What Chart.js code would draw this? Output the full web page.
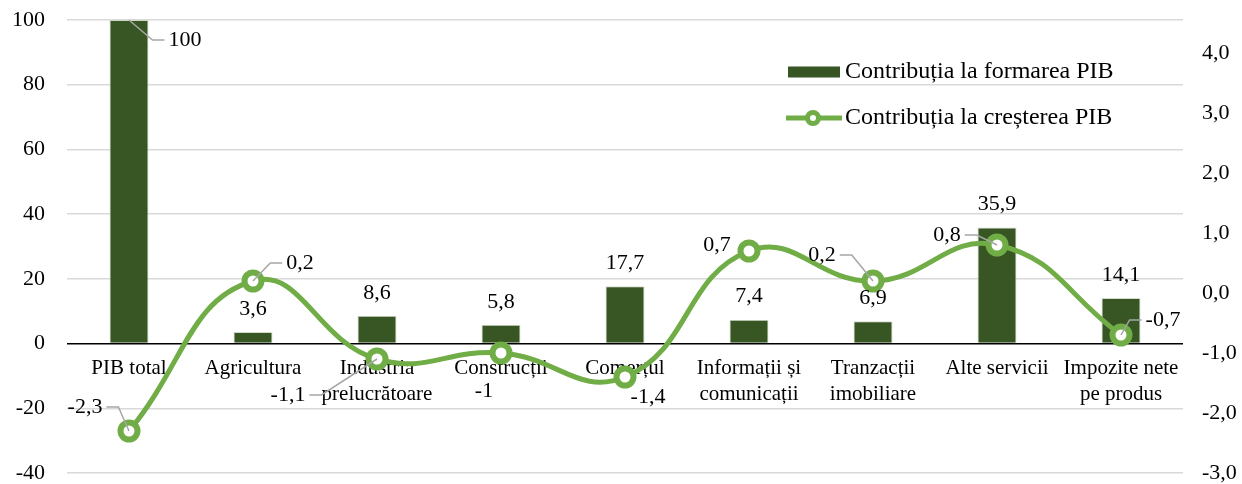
<!DOCTYPE html>
<html>
<head>
<meta charset="utf-8">
<script src="https://cdn.jsdelivr.net/npm/chart.js@4.4.0/dist/chart.umd.min.js"></script>
<style>
  html, body { margin: 0; padding: 0; background: #ffffff; }
  #wrap { width: 1242px; height: 484px; position: relative; }
</style>
</head>
<body>
<div id="wrap"><canvas id="myChart"></canvas></div>
<script>
// categories and values
var categories = [
    'PIB total',
    'Agricultura',
    ['Industria', 'prelucrătoare'],
    'Construcții',
    'Comerțul',
    ['Informații și', 'comunicații'],
    ['Tranzacții', 'imobiliare'],
    'Alte servicii',
    ['Impozite nete', 'pe produs']
];
var formareValues = [100, 3.6, 8.6, 5.8, 17.7, 7.4, 6.9, 35.9, 14.1];
var crestereValues = [-2.3, 0.2, -1.1, -1, -1.4, 0.7, 0.2, 0.8, -0.7];
var leftTicks = [-40, -20, 0, 20, 40, 60, 80, 100];
var rightTicks = [-3, -2, -1, 0, 1, 2, 3, 4];

var seriesNames = ['Contribuția la formarea PIB', 'Contribuția la creșterea PIB'];

// label placement: [dx, dy, leader line] relative to the mark (null = default above bar)
var barLabelPos = [[56, 20, true], null, null, null, null, null, null, null, null];
var lineLabelPos = [
    [-44, -24, true], [47, -18, true], [-89, 36, true], [-17, 38, false], [23, 20, false],
    [-32, -6, false], [-51, -26, true], [-50, -10, true], [42, -15, true]
];

var FONT = "'Liberation Serif', 'Times New Roman', serif";
var barColor = '#375623';
var lineColor = '#70ad47';

function fmt(v) {
    return String(v).replace('.', ',');
}

function drawLabel(ctx, text, px, py, pos) {
    var lx = px + pos[0], ly = py + pos[1];
    ctx.fillStyle = '#000';
    ctx.fillText(text, lx, ly);
    if (pos[2]) {
        var w = ctx.measureText(text).width;
        var dir = lx < px ? 1 : -1;
        var sx = lx + dir * (w / 2 + 4);
        var ex = sx + dir * 12;
        ctx.strokeStyle = '#a6a6a6';
        ctx.lineWidth = 1.5;
        ctx.beginPath();
        ctx.moveTo(sx, ly);
        ctx.lineTo(ex, ly);
        ctx.lineTo(px, py);
        ctx.stroke();
    }
}

var labelsPlugin = {
    id: 'valueLabels',
    afterDatasetsDraw: function (chart) {
        var ctx = chart.ctx;
        ctx.save();
        ctx.font = '22px ' + FONT;
        ctx.textAlign = 'center';
        ctx.textBaseline = 'middle';
        var barMeta = chart.getDatasetMeta(0);
        barMeta.data.forEach(function (el, i) {
            var pos = barLabelPos[i] || [0, -23, false];
            drawLabel(ctx, fmt(formareValues[i]), el.x, el.y, pos);
        });
        var lineMeta = chart.getDatasetMeta(1);
        lineMeta.data.forEach(function (el, i) {
            drawLabel(ctx, fmt(crestereValues[i]), el.x, el.y, lineLabelPos[i]);
        });
        ctx.restore();
    }
};

var legendPlugin = {
    id: 'insideLegend',
    afterDraw: function (chart) {
        var ctx = chart.ctx;
        var a = chart.chartArea;
        var x = a.right - 395, y1 = a.top + 52, y2 = a.top + 98;
        ctx.save();
        ctx.fillStyle = barColor;
        ctx.fillRect(x, y1 - 5.5, 52, 11);
        ctx.strokeStyle = lineColor;
        ctx.lineWidth = 5;
        ctx.beginPath();
        ctx.moveTo(x - 2, y2);
        ctx.lineTo(x + 54, y2);
        ctx.stroke();
        ctx.beginPath();
        ctx.arc(x + 25, y2, 5.5, 0, Math.PI * 2);
        ctx.fillStyle = '#fff';
        ctx.fill();
        ctx.lineWidth = 5;
        ctx.stroke();
        ctx.fillStyle = '#000';
        ctx.font = '24px ' + FONT;
        ctx.textAlign = 'left';
        ctx.textBaseline = 'middle';
        ctx.fillText(seriesNames[0], x + 57, y1);
        ctx.fillText(seriesNames[1], x + 57, y2);
        ctx.restore();
    }
};

// keep tick padding from eating vertical space
function trimPadding(s) {
    s.paddingTop = 8;
    s.paddingBottom = 8;
}

var ctx = document.getElementById('myChart').getContext('2d');
var myChart = new Chart(ctx, {
    type: 'bar',
    data: {
        labels: categories,
        datasets: [{
            label: seriesNames[0],
            data: formareValues,
            backgroundColor: barColor,
            borderColor: 'rgba(200, 210, 190, 0.8)',
            borderWidth: 1,
            barPercentage: 0.315,
            categoryPercentage: 1,
            yAxisID: 'y',
            order: 1
        }, {
            type: 'line',
            label: seriesNames[1],
            data: crestereValues,
            borderColor: lineColor,
            borderWidth: 5,
            tension: 0.45,
            pointRadius: 8.5,
            pointBorderWidth: 6,
            pointBackgroundColor: '#ffffff',
            pointBorderColor: lineColor,
            yAxisID: 'y1',
            order: 0
        }]
    },
    options: {
        responsive: true,
        maintainAspectRatio: false,
        animation: false,
        layout: { autoPadding: false, padding: { top: 20, bottom: 11, left: 0, right: 0 } },
        plugins: {
            legend: { display: false },
            tooltip: { enabled: false }
        },
        scales: {
            x: {
                position: { y: 0 },
                grid: { display: false, drawTicks: false },
                border: { display: false },
                ticks: {
                    color: '#000',
                    padding: 12,
                    maxRotation: 0,
                    autoSkip: false,
                    font: { family: FONT, size: 21, lineHeight: 1.24 }
                }
            },
            y: {
                position: 'left',
                min: -40,
                max: 100,
                afterBuildTicks: function (s) { s.ticks = leftTicks.map(function (v) { return { value: v }; }); },
                afterFit: function (s) { s.width = 67; trimPadding(s); },
                grid: {
                    drawTicks: false,
                    lineWidth: 1.5,
                    color: function (c) { return c.tick && c.tick.value === 0 ? '#000000' : '#d9d9d9'; }
                },
                border: { display: false },
                ticks: {
                    color: '#000',
                    padding: 22,
                    font: { family: FONT, size: 22 },
                    callback: function (v) { return String(v); }
                }
            },
            y1: {
                position: 'right',
                min: -3,
                max: 4.55,
                afterBuildTicks: function (s) { s.ticks = rightTicks.map(function (v) { return { value: v }; }); },
                afterFit: function (s) { s.width = 59; trimPadding(s); },
                grid: { display: false, drawTicks: false },
                border: { display: false },
                ticks: {
                    color: '#000',
                    padding: 19,
                    font: { family: FONT, size: 22 },
                    callback: function (v) { return v.toFixed(1).replace('.', ','); }
                }
            }
        }
    },
    plugins: [labelsPlugin, legendPlugin]
});
</script>
</body>
</html>
